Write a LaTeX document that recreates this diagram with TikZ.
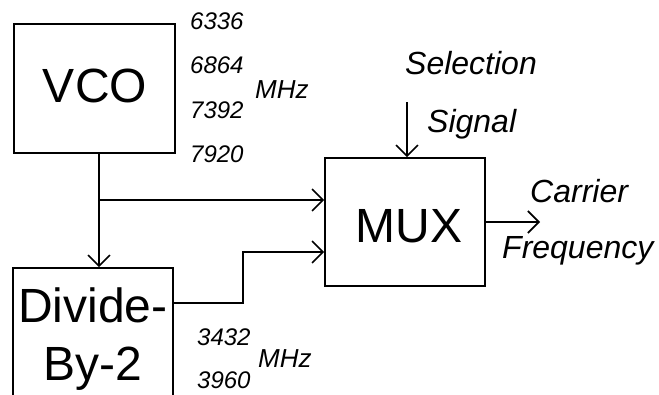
\documentclass[tikz,border=0pt]{standalone}
\usepackage{fontspec}
\setmainfont{Liberation Sans}
\usetikzlibrary{arrows.meta}
\tikzset{
  blk/.style={draw, line width=1.6pt, rectangle, inner sep=0pt},
  big/.style={font=\fontsize{48}{58}\selectfont, inner sep=0pt, anchor=base},
  num/.style={font=\fontsize{24}{28}\selectfont\itshape, inner sep=0pt, anchor=base west},
  unit/.style={font=\fontsize{26}{30}\selectfont\itshape, inner sep=0pt, anchor=base west},
  lbl/.style={font=\fontsize{32}{38}\selectfont\itshape, inner sep=0pt, anchor=base west},
  wire/.style={line width=1.6pt},
  arr/.style={wire, -{Straight Barb[length=11pt,width=22pt,line width=1.6pt]}}
}
\begin{document}
\begin{tikzpicture}[x=1pt,y=-1pt]
\useasboundingbox (0,0) rectangle (659,394);
\clip (0,0) rectangle (659,394);
% boxes
\node[blk, minimum width=161pt, minimum height=129pt] (vco) at (94.5,88.5) {};
\node[blk, minimum width=160pt, minimum height=128pt] (mux) at (405,222) {};
\node[blk, minimum width=160pt, minimum height=160pt] (div) at (93,348) {};
% box texts
\node[big] (vcot) at (95,102) {VCO};
\node[big] (muxt) at (409,242) {MUX};
\node[big] (divt1) at (93,322) {Divide-};
\node[big] (divt2) at (93,380) {By-2};
% frequency labels
\node[num] (f1) at (190,29) {6336};
\node[num] (f2) at (190,73) {6864};
\node[num] (f3) at (190,118) {7392};
\node[num] (f4) at (190,162) {7920};
\node[unit] (mhz1) at (255,98) {MHz};
\node[num] (g1) at (197,345) {3432};
\node[num] (g2) at (197,388) {3960};
\node[unit] (mhz2) at (258,367) {MHz};
\node[lbl] (sel1) at (405,74) {Selection};
\node[lbl] (sel2) at (427,132) {Signal};
\node[lbl] (car1) at (530,202) {Carrier};
\node[lbl] (car2) at (502,258) {Frequency};
% connectors
\coordinate (br) at (99,200);
\coordinate (step) at (243,303);
\coordinate (sel) at (407,102);
\coordinate (out) at (540,222);
\draw[arr] (br |- vco.south) -- (br |- div.north);
\draw[arr] (br) -- (br -| mux.west);
\draw[arr] (div.east |- step) -- (step) -- (243,252) -- (mux.west |- 0,252);
\draw[arr] (sel) -- (sel |- mux.north);
\draw[arr] (mux.east |- out) -- (out);
\end{tikzpicture}
\end{document}
